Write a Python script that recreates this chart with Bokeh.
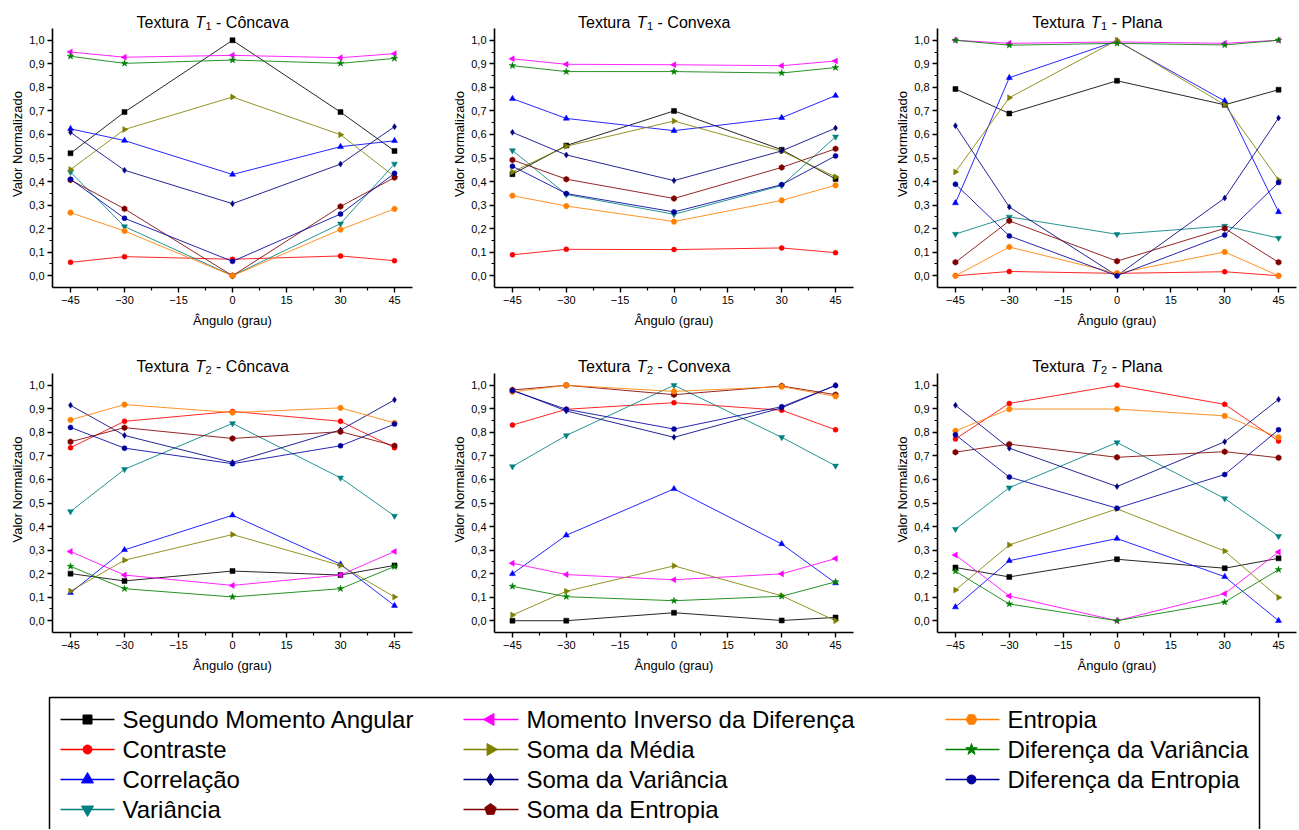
import math
from bokeh.plotting import figure
from bokeh.layouts import column, row
from bokeh.models import Range1d, FixedTicker, CustomJSTickFormatter
from bokeh.core.properties import value
from bokeh.embed import file_html
from bokeh.resources import INLINE

# ---------------- data ----------------
ANGLES = [-45, -30, 0, 30, 45]

SERIES = ["Segundo Momento Angular", "Contraste", "Correlação", "Variância",
          "Momento Inverso da Diferença", "Soma da Média", "Soma da Variância",
          "Soma da Entropia", "Entropia", "Diferença da Variância",
          "Diferença da Entropia"]

COLORS = ["#000000", "#FF0000", "#0000FF", "#008080", "#FF00FF", "#808000",
          "#000080", "#800000", "#FF8000", "#008000", "#0000A0"]

MARKERS = ["square", "circle", "triangle", "inverted_triangle", "triangle",
           "triangle", "diamond", "hex", "hex", "star", "circle"]
MARKER_ROT = [0, 0, 0, 0, math.pi / 2, -math.pi / 2, 0, math.pi / 2, 0, 0, 0]

# rows follow SERIES order, columns follow ANGLES
T1_CONCAVA = [
    [0.520, 0.695, 1.000, 0.695, 0.530],
    [0.057, 0.081, 0.070, 0.084, 0.064],
    [0.624, 0.574, 0.430, 0.548, 0.573],
    [0.440, 0.209, 0.000, 0.221, 0.475],
    [0.950, 0.928, 0.936, 0.926, 0.943],
    [0.451, 0.621, 0.759, 0.599, 0.421],
    [0.609, 0.448, 0.306, 0.474, 0.633],
    [0.407, 0.284, 0.000, 0.294, 0.417],
    [0.268, 0.190, 0.000, 0.196, 0.284],
    [0.932, 0.902, 0.916, 0.902, 0.923],
    [0.410, 0.244, 0.061, 0.262, 0.435],
]

T1_CONVEXA = [
    [0.431, 0.553, 0.700, 0.535, 0.411],
    [0.089, 0.112, 0.111, 0.118, 0.098],
    [0.752, 0.668, 0.616, 0.671, 0.765],
    [0.532, 0.345, 0.261, 0.383, 0.590],
    [0.921, 0.898, 0.896, 0.892, 0.912],
    [0.441, 0.550, 0.657, 0.529, 0.420],
    [0.609, 0.513, 0.404, 0.530, 0.627],
    [0.492, 0.410, 0.328, 0.460, 0.539],
    [0.340, 0.296, 0.230, 0.320, 0.384],
    [0.892, 0.867, 0.867, 0.861, 0.884],
    [0.465, 0.349, 0.271, 0.387, 0.509],
]

T1_PLANA = [
    [0.793, 0.689, 0.828, 0.726, 0.790],
    [0.000, 0.018, 0.010, 0.017, 0.000],
    [0.309, 0.841, 0.997, 0.742, 0.271],
    [0.177, 0.250, 0.176, 0.211, 0.160],
    [1.000, 0.987, 0.993, 0.987, 1.000],
    [0.441, 0.756, 1.000, 0.726, 0.407],
    [0.637, 0.292, 0.000, 0.330, 0.670],
    [0.057, 0.233, 0.062, 0.201, 0.057],
    [0.000, 0.122, 0.010, 0.101, 0.000],
    [1.000, 0.979, 0.987, 0.980, 1.000],
    [0.389, 0.169, 0.000, 0.173, 0.396],
]

T2_CONCAVA = [
    [0.200, 0.169, 0.211, 0.194, 0.235],
    [0.735, 0.847, 0.889, 0.847, 0.735],
    [0.119, 0.301, 0.448, 0.240, 0.064],
    [0.464, 0.643, 0.838, 0.607, 0.445],
    [0.294, 0.194, 0.150, 0.194, 0.294],
    [0.126, 0.257, 0.366, 0.235, 0.101],
    [0.915, 0.787, 0.672, 0.810, 0.938],
    [0.760, 0.820, 0.774, 0.803, 0.743],
    [0.853, 0.918, 0.884, 0.904, 0.840],
    [0.231, 0.136, 0.101, 0.136, 0.230],
    [0.821, 0.733, 0.667, 0.743, 0.835],
]

T2_CONVEXA = [
    [0.000, 0.000, 0.034, 0.001, 0.014],
    [0.831, 0.898, 0.926, 0.894, 0.811],
    [0.199, 0.363, 0.560, 0.326, 0.160],
    [0.655, 0.787, 1.000, 0.779, 0.658],
    [0.244, 0.196, 0.174, 0.199, 0.264],
    [0.024, 0.125, 0.233, 0.106, 0.000],
    [0.980, 0.891, 0.779, 0.904, 1.000],
    [0.980, 1.000, 0.960, 0.997, 0.960],
    [0.972, 1.000, 0.974, 0.994, 0.953],
    [0.146, 0.102, 0.085, 0.104, 0.165],
    [0.977, 0.898, 0.814, 0.909, 0.999],
]

T2_PLANA = [
    [0.226, 0.186, 0.261, 0.223, 0.265],
    [0.772, 0.923, 1.000, 0.919, 0.763],
    [0.058, 0.255, 0.349, 0.187, 0.000],
    [0.389, 0.565, 0.757, 0.519, 0.359],
    [0.279, 0.105, 0.000, 0.115, 0.292],
    [0.130, 0.322, 0.475, 0.296, 0.099],
    [0.915, 0.733, 0.570, 0.760, 0.940],
    [0.716, 0.750, 0.694, 0.718, 0.692],
    [0.806, 0.899, 0.899, 0.870, 0.779],
    [0.210, 0.071, 0.000, 0.079, 0.217],
    [0.790, 0.610, 0.478, 0.621, 0.811],
]

X_TICKS = [-45, -30, -15, 0, 15, 30, 45]
X_MINOR = [-37.5, -22.5, -7.5, 7.5, 22.5, 37.5]
Y_TICKS = [0.0, 0.1, 0.2, 0.3, 0.4, 0.5, 0.6, 0.7, 0.8, 0.9, 1.0]
Y_MINOR = [0.05, 0.15, 0.25, 0.35, 0.45, 0.55, 0.65, 0.75, 0.85, 0.95]

PANELS = [
    ("1", "Côncava", T1_CONCAVA), ("1", "Convexa", T1_CONVEXA), ("1", "Plana", T1_PLANA),
    ("2", "Côncava", T2_CONCAVA), ("2", "Convexa", T2_CONVEXA), ("2", "Plana", T2_PLANA),
]

FONT = "Liberation Sans"

# Arial / Liberation Sans advance widths (per 1000 em)
CW = {"T": 611, "e": 556, "x": 500, "t": 278, "u": 556, "r": 333, "a": 556,
      " ": 278, "-": 333, "C": 722, "ô": 556, "n": 556, "c": 500, "v": 500,
      "o": 556, "P": 667, "l": 222, "1": 556, "2": 556}

PX_PER_UNIT = 259 / 1.1     # vertical scale of the data area
DATA_TOP = 1.05
DATA_BOTTOM = -0.05


def tw(s, size):
    return sum(CW.get(ch, 556) for ch in s) * size / 1000.0


def add_title(p, sub, name, base_px):
    """Title drawn inside the (extended) frame, base_px pixels above data top."""
    f, fs = 16, 11
    a, b = "Textura", "- " + name
    wa, wsp, wt, ws, wb = tw(a, f), tw(" ", f), tw("T", f), tw(sub, fs), tw(b, f)
    total = wa + wsp + wt + ws + wsp + wb
    start = -20 - total / 2.0
    yb = DATA_TOP + base_px / PX_PER_UNIT
    common = dict(text_font=value(FONT), text_align="left", text_baseline="alphabetic",
                  text_color="black")
    x_t = start + wa + wsp
    x_s = x_t + wt + 0.5
    x_b = x_s + ws + wsp
    p.text(x=[0], y=[yb], text=[a], x_offset=start, text_font_size=f"{f}px", **common)
    p.text(x=[0], y=[yb], text=["T"], x_offset=x_t, text_font_size=f"{f}px",
           text_font_style="italic", **common)
    p.text(x=[0], y=[yb], text=[sub], x_offset=x_s, y_offset=3,
           text_font_size=f"{fs}px", **common)
    p.text(x=[0], y=[yb], text=[b], x_offset=x_b, text_font_size=f"{f}px", **common)


def make_panel(idx, sub, name, data):
    col = idx % 3
    top_row = idx < 3
    left = [52, 44, 44][col]
    right = [37, 39, 2][col]
    width = left + 360 + right
    head = 28 if top_row else 27          # title space above the data area
    bottom = 59 if top_row else 45
    height = head + 259 + bottom
    y_top = DATA_TOP + head / PX_PER_UNIT
    p = figure(width=width, height=height,
               x_range=Range1d(-50, 50), y_range=Range1d(DATA_BOTTOM, y_top),
               toolbar_location=None, output_backend="svg",
               min_border_left=left, min_border_right=right,
               min_border_top=0, min_border_bottom=bottom)
    p.outline_line_color = None
    p.xgrid.grid_line_color = None
    p.ygrid.grid_line_color = None
    p.background_fill_color = "white"
    p.border_fill_color = "white"

    p.xaxis.ticker = FixedTicker(ticks=X_TICKS, minor_ticks=X_MINOR)
    p.yaxis.ticker = FixedTicker(ticks=Y_TICKS, minor_ticks=Y_MINOR)
    p.yaxis.bounds = (DATA_BOTTOM, DATA_TOP)
    p.yaxis.formatter = CustomJSTickFormatter(code="return tick.toFixed(1).replace('.', ',');")
    p.xaxis.axis_label = "Ângulo (grau)"
    p.yaxis.axis_label = "Valor Normalizado"
    for ax in (p.xaxis, p.yaxis):
        ax.axis_label_text_font = FONT
        ax.axis_label_text_font_size = "13px"
        ax.axis_label_text_font_style = "normal"
        ax.axis_label_text_color = "black"
        ax.major_label_text_font = FONT
        ax.major_label_text_font_size = "11px"
        ax.major_label_text_color = "black"
        ax.axis_line_width = 1.6
        ax.axis_line_color = "black"
        ax.major_tick_line_width = 1.4
        ax.minor_tick_line_width = 1.2
        ax.major_tick_line_color = "black"
        ax.minor_tick_line_color = "black"
        ax.major_tick_out = 5
        ax.major_tick_in = 0
        ax.minor_tick_out = 3
        ax.minor_tick_in = 0
        ax.major_label_standoff = 3
    p.xaxis.axis_label_standoff = 6
    p.yaxis.axis_label_standoff = 1

    for i, vals in enumerate(data):
        p.line(ANGLES, vals, line_color=COLORS[i], line_width=1, line_alpha=0.85)
        size = 5
        if MARKERS[i] in ("triangle", "inverted_triangle", "diamond", "hex"):
            size = 6
        if MARKERS[i] == "star":
            size = 7
        p.scatter(ANGLES, vals, marker=MARKERS[i], size=size, angle=MARKER_ROT[i],
                  fill_color=COLORS[i], line_color=COLORS[i], line_width=0.5)

    add_title(p, sub, name, 6 if top_row else 7)
    return p


panels = [make_panel(i, *pn) for i, pn in enumerate(PANELS)]

# ---------------- legend ----------------
LEG_W, LEG_TOP, LEG_BOTTOM = 1298, 677, 829
leg = figure(width=LEG_W, height=LEG_BOTTOM - LEG_TOP,
             x_range=Range1d(0, LEG_W), y_range=Range1d(LEG_BOTTOM, LEG_TOP),
             toolbar_location=None, output_backend="svg",
             x_axis_type=None, y_axis_type=None, min_border=0)
leg.outline_line_color = None
leg.grid.visible = False
leg.background_fill_color = "white"

leg.line(x=[49, 49, 1259, 1259], y=[850, 697, 697, 850], line_color="black", line_width=1.5)

COL_X = [(60, 114, 87, 122), (463, 518, 490, 526), (945, 999, 971, 1007)]
ROW_Y = [719, 749, 779, 809]
LEG_POS = [(0, 0), (0, 1), (0, 2), (0, 3), (1, 0), (1, 1), (1, 2), (1, 3), (2, 0), (2, 1), (2, 2)]

tx, ty, tt = [], [], []
for i, name in enumerate(SERIES):
    c, r = LEG_POS[i]
    x0, x1, xm, xt = COL_X[c]
    y = ROW_Y[r]
    leg.line([x0, x1], [y, y], line_color=COLORS[i], line_width=1.6)
    if i == 7:  # pentagon symbol
        rad = 6
        xs = [xm + rad * math.sin(2 * math.pi * k / 5) for k in range(5)]
        ys = [y - rad * math.cos(2 * math.pi * k / 5) for k in range(5)]
        leg.patch(xs, ys, fill_color=COLORS[i], line_color=COLORS[i])
    else:
        size = 9
        if MARKERS[i] in ("triangle", "inverted_triangle", "diamond", "star"):
            size = 12
        if MARKERS[i] == "hex":
            size = 11
        leg.scatter([xm], [y], marker=MARKERS[i], size=size, angle=MARKER_ROT[i],
                    fill_color=COLORS[i], line_color=COLORS[i])
    tx.append(xt)
    ty.append(y)
    tt.append(name)

leg.text(x=tx, y=ty, text=tt, text_font=value(FONT), text_font_size="24px",
         text_baseline="middle", text_align="left", text_color="black")

layout = column(row(*panels[:3]), row(*panels[3:]), leg)

open("out.html", "w").write(file_html(layout, INLINE))
